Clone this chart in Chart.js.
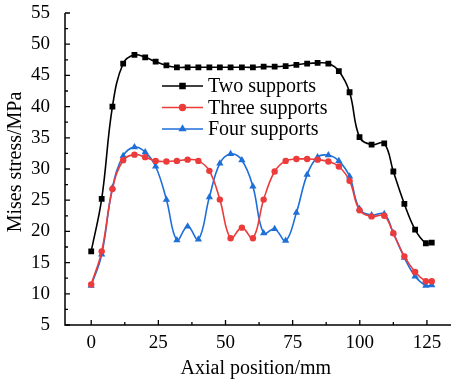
<!DOCTYPE html>
<html>
<head>
<meta charset="utf-8">
<script src="https://cdn.jsdelivr.net/npm/chart.js@4/dist/chart.umd.min.js"></script>
<style>
    html, body { margin: 0; padding: 0; background: #fff; }
    #wrap { width: 451px; height: 381px; }
</style>
</head>
<body>
<div id="wrap"><canvas id="stressChart"></canvas></div>
<script>
// DATA
const axialPos = [0, 3.9, 7.9, 11.9, 16.1, 20.1, 24, 28, 31.9, 35.9, 39.9, 44, 47.9, 51.9,
    56.1, 60.2, 64.2, 68.3, 72.4, 76.4, 80.4, 84.3, 88.3, 92.2, 96.2, 99.9, 104.4, 109.1,
    112.5, 116.6, 120.6, 124.6, 126.8];

const twoSupports = [16.8, 25.2, 40.0, 46.9, 48.3, 47.9, 47.2, 46.6, 46.3, 46.3, 46.3, 46.3,
    46.3, 46.3, 46.3, 46.3, 46.4, 46.4, 46.5, 46.7, 46.9, 47.0, 46.9, 45.7, 42.3, 35.1, 33.9,
    34.1, 29.6, 24.4, 20.3, 18.1, 18.2];

const threeSupports = [11.5, 16.8, 26.8, 31.4, 32.3, 31.9, 31.3, 31.2, 31.3, 31.5, 31.3, 29.7,
    25.1, 18.9, 20.6, 18.9, 25.1, 29.6, 31.3, 31.6, 31.6, 31.5, 31.2, 30.4, 28.1, 23.4, 22.4,
    22.5, 19.7, 16.0, 13.5, 12.0, 12.0];

const fourSupports = [11.3, 16.3, 27.0, 32.1, 33.5, 32.7, 30.4, 25.1, 18.6, 20.8, 18.7, 25.5,
    30.9, 32.4, 31.4, 27.2, 19.7, 20.4, 18.5, 23.0, 29.1, 31.9, 32.2, 31.3, 28.8, 23.6, 22.6,
    22.8, 19.7, 15.8, 12.8, 11.3, 11.4];

const seriesNames = ["Two supports", "Three supports", "Four supports"];
const xTickValues = [0, 25, 50, 75, 100, 125];
const yTickValues = [5, 10, 15, 20, 25, 30, 35, 40, 45, 50, 55];
const yTitle = "Mises stress/MPa";

const SERIF = "'Liberation Serif', 'Times New Roman', serif";

function toPoints(ys) {
    return ys.map((y, i) => ({ x: axialPos[i], y: y }));
}

function makeSet(label, ys, color, style, radius) {
    return {
        label: label,
        data: toPoints(ys),
        borderColor: color,
        backgroundColor: color,
        borderWidth: 1.6,
        pointStyle: style,
        pointRadius: radius,
        pointBorderWidth: 0,
        tension: 0.4,
        fill: false
    };
}

// axis lines + inward ticks (major + minor) + y title + legend inside the plot
const frameAndLegend = {
    id: "frameAndLegend",
    afterDatasetsDraw(chart) {
        const ctx = chart.ctx;
        const xs = chart.scales.x;
        const ys = chart.scales.y;
        const area = chart.chartArea;
        ctx.save();
        ctx.strokeStyle = "#000";
        ctx.lineWidth = 1.5;
        ctx.beginPath();
        ctx.moveTo(area.left, area.top);
        ctx.lineTo(area.left, area.bottom);
        ctx.lineTo(451, area.bottom);
        ctx.stroke();

        ctx.lineWidth = 1.3;
        ctx.beginPath();
        for (let v = 0; v <= 137.5; v += 12.5) {
            const px = xs.getPixelForValue(v);
            const len = v % 25 === 0 ? 5 : 3;
            ctx.moveTo(px, area.bottom);
            ctx.lineTo(px, area.bottom - len);
        }
        for (let v = 5; v <= 55; v += 2.5) {
            const py = ys.getPixelForValue(v);
            const len = v % 5 === 0 ? 5 : 3;
            ctx.moveTo(area.left, py);
            ctx.lineTo(area.left + len, py);
        }
        ctx.stroke();

        // y title
        ctx.save();
        ctx.translate(16, 162);
        ctx.rotate(-Math.PI / 2);
        ctx.fillStyle = "#000";
        ctx.font = "20px " + SERIF;
        ctx.textAlign = "center";
        ctx.textBaseline = "middle";
        ctx.fillText(yTitle, 0, 0);
        ctx.restore();

        // legend
        const rows = [86, 107.5, 129];
        chart.data.datasets.forEach((ds, i) => {
            const y = rows[i];
            ctx.strokeStyle = ds.borderColor;
            ctx.fillStyle = ds.borderColor;
            ctx.lineWidth = 1.6;
            ctx.beginPath();
            ctx.moveTo(162, y);
            ctx.lineTo(203, y);
            ctx.stroke();
            Chart.helpers.drawPoint(ctx, {
                pointStyle: ds.pointStyle,
                radius: ds.pointRadius + 0.5,
                borderWidth: 0
            }, 182.5, y);
            ctx.fillStyle = "#000";
            ctx.font = "20px " + SERIF;
            ctx.textBaseline = "middle";
            ctx.textAlign = "left";
            ctx.fillText(ds.label, 208, y + 1);
        });
        ctx.restore();
    }
};

new Chart(document.getElementById("stressChart"), {
    type: "line",
    data: {
        datasets: [
            makeSet(seriesNames[0], twoSupports, "#000000", "rect", 4.1),
            makeSet(seriesNames[1], threeSupports, "#ec3b3b", "circle", 3.2),
            makeSet(seriesNames[2], fourSupports, "#1f6fd9", "triangle", 4.2)
        ]
    },
    options: {
        responsive: true,
        maintainAspectRatio: false,
        animation: false,
        layout: { padding: { top: 13, right: 0, bottom: 0, left: 0 } },
        plugins: {
            legend: { display: false },
            tooltip: { enabled: false }
        },
        scales: {
            x: {
                type: "linear",
                min: -9.76,
                max: 132.4,
                afterFit: s => {
                    s.height = 56;
                    s.paddingLeft = 0;
                    s.paddingRight = 0;
                },
                afterBuildTicks: s => { s.ticks = xTickValues.map(v => ({ value: v })); },
                grid: { display: false, drawTicks: false },
                border: { display: false },
                ticks: {
                    color: "#000",
                    padding: 7,
                    maxRotation: 0,
                    autoSkip: false,
                    font: { family: SERIF, size: 19 }
                },
                title: {
                    display: true,
                    text: "Axial position/mm",
                    color: "#000",
                    padding: 0,
                    font: { family: SERIF, size: 20, lineHeight: 1.2 }
                }
            },
            y: {
                type: "linear",
                min: 5,
                max: 55,
                afterFit: s => {
                    s.width = 65;
                    s.paddingTop = 0;
                    s.paddingBottom = 0;
                },
                afterBuildTicks: s => { s.ticks = yTickValues.map(v => ({ value: v })); },
                grid: { display: false, drawTicks: false },
                border: { display: false },
                ticks: {
                    color: "#000",
                    padding: 15,
                    autoSkip: false,
                    font: { family: SERIF, size: 19 }
                }
            }
        }
    },
    plugins: [frameAndLegend]
});
</script>
</body>
</html>
